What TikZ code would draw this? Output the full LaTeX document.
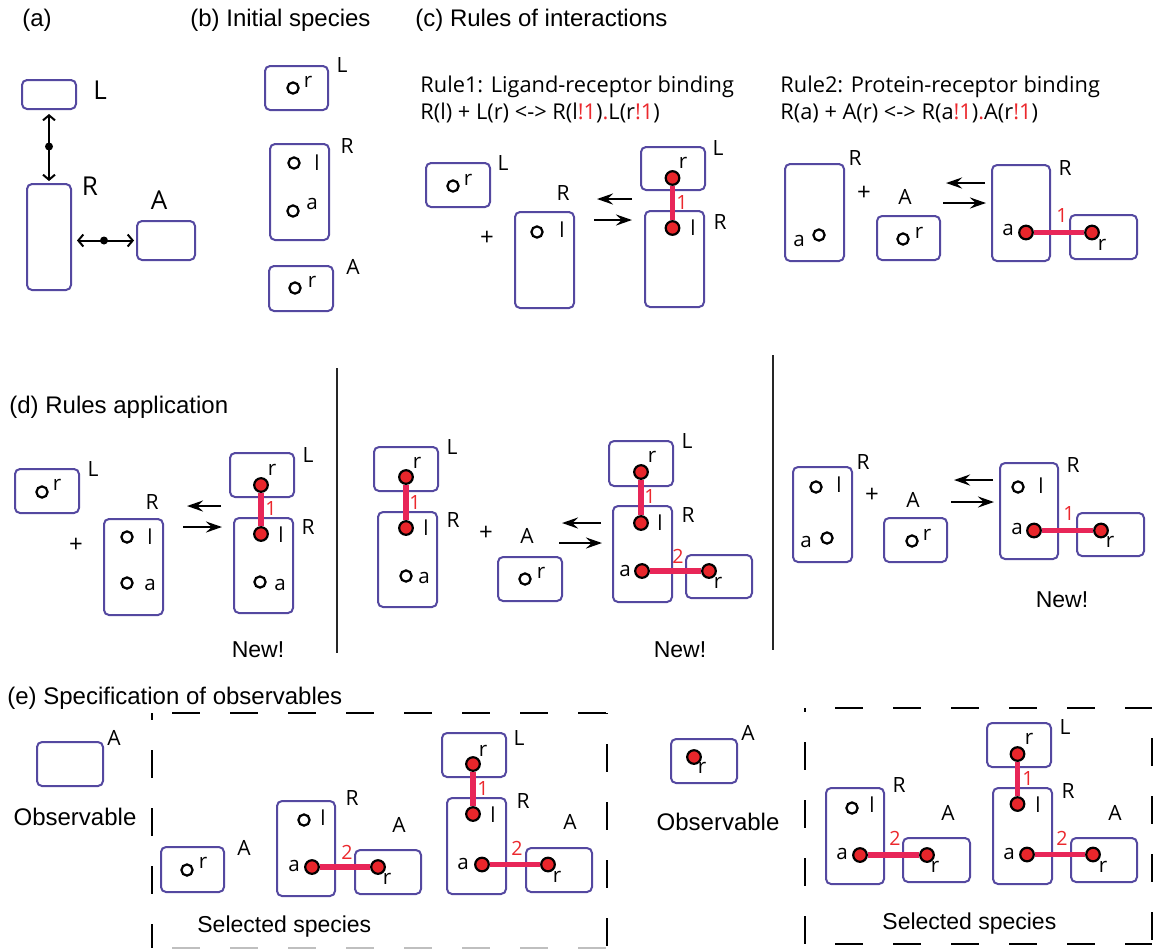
\documentclass[tikz,border=0pt]{standalone}
\usepackage{fontspec}
\setmainfont{Liberation Sans}
\newfontfamily\pts{Open Sans}
\usetikzlibrary{arrows.meta,fit,calc}
\definecolor{boxc}{RGB}{84,72,160}
\definecolor{dotc}{RGB}{232,38,43}
\definecolor{bondc}{RGB}{232,38,88}
\definecolor{numc}{RGB}{235,40,45}
\newcommand\mkr[1]{{\color{numc}#1}}
\newcommand\mybox[5]{\node[bx, fit={(#2,#3)(#4,#5)}] (#1) {};}
\newcommand\mycirc[3]{\node[opn] (#1) at (#2,#3) {};}
\newcommand\mydot[3]{\node[dot] (#1) at (#2,#3) {};}
\newcommand\mysite[4]{\node[site] (#1) at (#2,#3) {#4};}
\newcommand\mylab[4]{\node[lab] (#1) at (#2,#3) {#4};}
\newcommand\mynum[4]{\node[num] (#1) at (#2,#3) {#4};}
\begin{document}
\begin{tikzpicture}[x=0.5pt,y=-0.5pt,
 bx/.style={draw=boxc,line width=1pt,rounded corners=2.5pt,inner sep=0pt},
 opn/.style={circle,draw=black,line width=1.1pt,fill=white,minimum size=5.6pt,inner sep=0pt},
 dot/.style={circle,draw=black,line width=1.1pt,fill=dotc,minimum size=6.8pt,inner sep=0pt},
 bond/.style={draw=bondc,line width=2.8pt},
 site/.style={font=\pts\fontsize{10.3}{11}\selectfont,inner sep=0pt},
 lab/.style={font=\pts\fontsize{10.5}{11}\selectfont,inner sep=0pt},
 biglab/.style={font=\pts\fontsize{13}{14}\selectfont,inner sep=0pt},
 num/.style={font=\pts\fontsize{9.8}{10}\selectfont,text=numc,inner sep=0pt},
 ttl/.style={font=\fontsize{12}{14}\selectfont,anchor=west,inner sep=0pt},
 rulet/.style={font=\pts\fontsize{10.9}{14}\selectfont,anchor=west,inner sep=0pt},
 big/.style={font=\fontsize{11.5}{13}\selectfont,inner sep=0pt},
 plus/.style={font=\pts\fontsize{12}{14}\selectfont,inner sep=0pt},
 rxn/.style={line width=1.2pt,-{Stealth[length=8pt,width=5.5pt,inset=2.8pt]}},
 dbl/.style={line width=1pt,{Straight Barb[length=2.5pt,width=6pt]}-{Straight Barb[length=2.5pt,width=6pt]}},
 jdot/.style={circle,fill=black,minimum size=4pt,inner sep=0pt},
 sepl/.style={line width=1.2pt,draw=black!85},
 dsh/.style={line width=1.3pt,dash pattern=on 14pt off 15pt},
]
\useasboundingbox (0,0) rectangle (1154,950);

% ---------------- (a)
\node[ttl] (ta) at (22,20) {(a)};
\mybox{aL}{22}{80}{76}{109}
\mybox{aR}{27}{184}{71}{290}
\mybox{aA}{137}{221}{195}{260}
\node[biglab] (aLl) at (100,90) {L};
\node[biglab] (aRl) at (90,186) {R};
\node[biglab] (aAl) at (159,200) {A};
\draw[dbl, shorten <=2pt, shorten >=1pt] (aL.south) -- (aR.north);
\node[jdot] (aj1) at ($(aL.south)!0.5!(aR.north)$) {};
\draw[dbl, shorten <=2.5pt, shorten >=1pt] (aR.east |- aA.west) -- (aA.west);
\node[jdot] (aj2) at ($(aR.east |- aA.west)!0.5!(aA.west)$) {};

% ---------------- (b)
\node[ttl] (tb) at (190,20) {(b) Initial species};
\mybox{bL}{265}{66}{328}{110}
\mycirc{bLc}{293}{88} \mysite{bLr}{308}{82}{r} \mylab{bLl}{342}{65}{L}
\mybox{bR}{270}{144}{329}{240}
\mycirc{bRc1}{294}{163} \mysite{bRs1}{317}{163}{l}
\mycirc{bRc2}{293}{211} \mysite{bRs2}{312}{204}{a}
\mylab{bRl}{347}{146}{R}
\mybox{bA}{269}{266}{333}{311}
\mycirc{bAc}{295}{288} \mysite{bAr}{312}{282}{r} \mylab{bAl}{353}{267}{A}

% ---------------- (c)
\node[ttl] (tc) at (415,20) {(c) Rules of interactions};
\node[rulet] (r1a) at (420,87) {Rule1: Ligand-receptor binding};
\node[rulet] (r1b) at (420,113) {R(l) + L(r) <-> R(l\mkr{!1})\mkr{.}L(r\mkr{!1})};
\mybox{c1L}{426}{163}{490}{207}
\mycirc{c1Lc}{453}{186} \mysite{c1Lr}{468}{180}{r} \mylab{c1Ll}{503}{163}{L}
\node[plus] (c1p) at (487,238) {+};
\mybox{c1R}{515}{212}{574}{308}
\mycirc{c1Rc}{537}{232} \mysite{c1Rs}{562}{230}{l} \mylab{c1Rl}{563}{193}{R}
\coordinate (c1a1s) at (632,199); \coordinate (c1a1e) at (597,199);
\coordinate (c1a2s) at (594,220); \coordinate (c1a2e) at (632,220);
\draw[rxn] (c1a1s) -- (c1a1e);
\draw[rxn] (c1a2s) -- (c1a2e);
\mybox{c1bL}{641}{147}{705}{190}
\mybox{c1bR}{645}{211}{704}{307}
\mydot{c1bLd}{672.5}{178} \mydot{c1bRd}{672.5}{228}
\draw[bond] (c1bLd) -- (c1bRd);
\mysite{c1bLr}{683}{163}{r} \mylab{c1bLl}{718}{148}{L}
\mysite{c1bRs}{693}{228}{l} \mylab{c1bRl}{720}{222}{R}
\mynum{c1n}{682}{202}{1}

\node[rulet] (r2a) at (780,87) {Rule2: Protein-receptor binding};
\node[rulet] (r2b) at (780,113) {R(a) + A(r) <-> R(a\mkr{!1})\mkr{.}A(r\mkr{!1})};
\mybox{c2R}{785}{164}{844}{261}
\mycirc{c2Rc}{819}{235} \mysite{c2Rs}{799}{241}{a} \mylab{c2Rl}{855}{158}{R}
\node[plus] (c2p) at (864,193) {+};
\mylab{c2Al}{905}{197}{A}
\mybox{c2A}{877}{216}{940}{260}
\mycirc{c2Ac}{903}{239} \mysite{c2Ar}{919}{233}{r}
\coordinate (c2a1s) at (985,183); \coordinate (c2a1e) at (946,183);
\coordinate (c2a2s) at (943,203); \coordinate (c2a2e) at (986,203);
\draw[rxn] (c2a1s) -- (c2a1e);
\draw[rxn] (c2a2s) -- (c2a2e);
\mybox{c2bR}{992}{165}{1050}{261}
\mybox{c2bA}{1070}{215}{1137}{259}
\mydot{c2bRd}{1026}{232.5} \mydot{c2bAd}{1092}{232.5}
\draw[bond] (c2bRd) -- (c2bAd);
\mysite{c2bRs}{1008}{230}{a} \mylab{c2bRl}{1065}{168}{R}
\mysite{c2bAr}{1102}{245}{r}
\mynum{c2n}{1062}{215}{1}

% ---------------- (d)
\node[ttl] (td) at (9,407) {(d) Rules application};
% panel 1
\mybox{d1L}{15}{469}{79}{513}
\mycirc{d1Lc}{42}{492} \mysite{d1Lr}{57}{485}{r} \mylab{d1Ll}{93}{469}{L}
\node[plus] (d1p) at (76,545) {+};
\mybox{d1R}{104}{519}{163}{615}
\mycirc{d1Rc1}{127}{537} \mysite{d1Rs1}{150}{537}{l}
\mycirc{d1Rc2}{127}{583} \mysite{d1Rs2}{150}{585}{a}
\mylab{d1Rl}{152}{502}{R}
\coordinate (d1a1s) at (221,506); \coordinate (d1a1e) at (187,506);
\coordinate (d1a2s) at (183,527); \coordinate (d1a2e) at (222,527);
\draw[rxn] (d1a1s) -- (d1a1e);
\draw[rxn] (d1a2s) -- (d1a2e);
\mybox{d1bL}{230}{453}{294}{497}
\mybox{d1bR}{234}{518}{293}{613}
\mydot{d1bLd}{261}{485} \mydot{d1bRd}{261}{534}
\draw[bond] (d1bLd) -- (d1bRd);
\mysite{d1bLr}{272}{470}{r} \mylab{d1bLl}{308}{455}{L}
\mysite{d1bRs1}{281}{535}{l}
\mycirc{d1bRc}{260}{582} \mysite{d1bRs2}{280}{585}{a}
\mylab{d1bRl}{308}{527}{R}
\mynum{d1n}{271}{508}{1}
\node[big] (d1new) at (258,650) {New!};
\coordinate (s1t) at (337,368); \coordinate (s1b) at (337,653);
\draw[sepl] (s1t) -- (s1b);
% panel 2
\mybox{d2L}{374}{447}{438}{491}
\mybox{d2R}{378}{512}{437}{607}
\mydot{d2Ld}{406}{477} \mydot{d2Rd}{406}{528}
\draw[bond] (d2Ld) -- (d2Rd);
\mysite{d2Lr}{417}{463}{r} \mylab{d2Ll}{452}{447}{L}
\mysite{d2Rs1}{426}{528}{l}
\mycirc{d2Rc}{406}{576} \mysite{d2Rs2}{424}{578}{a}
\mylab{d2Rl}{453}{520}{R}
\mynum{d2n}{415}{502}{1}
\node[plus] (d2p) at (486,533) {+};
\mylab{d2Al}{527}{536}{A}
\mybox{d2A}{498}{557}{562}{601}
\mycirc{d2Ac}{525}{579} \mysite{d2Ar}{541}{573}{r}
\coordinate (d2a1s) at (601,523); \coordinate (d2a1e) at (562,523);
\coordinate (d2a2s) at (559,543); \coordinate (d2a2e) at (602,543);
\draw[rxn] (d2a1s) -- (d2a1e);
\draw[rxn] (d2a2s) -- (d2a2e);
\mybox{d2bL}{609}{441}{673}{486}
\mybox{d2bR}{613}{506}{672}{602}
\mybox{d2bA}{686}{555}{752}{598}
\mydot{d2bLd}{641}{472} \mydot{d2bRd1}{641}{523}
\mydot{d2bRd2}{642}{571} \mydot{d2bAd}{709}{571}
\draw[bond] (d2bLd) -- (d2bRd1);
\draw[bond] (d2bRd2) -- (d2bAd);
\mysite{d2bLr}{652}{457}{r} \mylab{d2bLl}{687}{441}{L}
\mysite{d2bRs1}{660}{523}{l} \mysite{d2bRs2}{625}{571}{a}
\mylab{d2bRl}{688}{515}{R}
\mysite{d2bAr}{718}{583}{r}
\mynum{d2n1}{650}{496}{1} \mynum{d2n2}{678}{556}{2}
\node[big] (d2new) at (680,650) {New!};
\coordinate (s2t) at (773,355); \coordinate (s2b) at (773,650);
\draw[sepl] (s2t) -- (s2b);
% panel 3
\mybox{d3R}{793}{467}{852}{562}
\mycirc{d3Rc1}{816}{487} \mysite{d3Rs1}{839}{485}{l}
\mycirc{d3Rc2}{827}{538} \mysite{d3Rs2}{806}{542}{a}
\mylab{d3Rl}{863}{462}{R}
\node[plus] (d3p) at (872,495) {+};
\mylab{d3Al}{913}{500}{A}
\mybox{d3A}{884}{518}{947}{562}
\mycirc{d3Ac}{912}{541} \mysite{d3Ar}{927}{535}{r}
\coordinate (d3a1s) at (993,480); \coordinate (d3a1e) at (954,480);
\coordinate (d3a2s) at (951,502); \coordinate (d3a2e) at (994,502);
\draw[rxn] (d3a1s) -- (d3a1e);
\draw[rxn] (d3a2s) -- (d3a2e);
\mybox{d3bR}{1000}{463}{1058}{559}
\mybox{d3bA}{1077}{513}{1144}{556}
\mycirc{d3bRc}{1018}{487} \mysite{d3bRs1}{1041}{486}{l}
\mydot{d3bRd}{1034}{530.5} \mydot{d3bAd}{1101}{530.5}
\draw[bond] (d3bRd) -- (d3bAd);
\mysite{d3bRs2}{1017}{529}{a} \mylab{d3bRl}{1073}{465}{R}
\mysite{d3bAr}{1110}{542}{r}
\mynum{d3n}{1069}{513}{1}
\node[big] (d3new) at (1062,600) {New!};

% ---------------- (e)
\node[ttl] (te) at (7,698) {(e) Specification of observables};
\mybox{eO1}{37}{742}{103}{786} \mylab{eO1l}{114}{738}{A}
\node[font=\fontsize{12}{14}\selectfont,inner sep=0pt] (eO1t) at (75,817) {Observable};
% dashed box 1
\coordinate (k1a) at (152,713); \coordinate (k1b) at (607,713);
\coordinate (k1c) at (607,948); \coordinate (k1d) at (152,948);
\draw[dsh, dash phase=19pt] (k1a) -- (k1b);
\draw[dsh, dash phase=10.5pt] (k1a) -- (k1d);
\draw[dsh, dash phase=13.5pt] (k1b) -- (k1c);
\draw[dsh, dash phase=19pt, draw=black!25] (k1d) -- (k1c);
\mybox{e1A}{161}{847}{224}{892}
\mycirc{e1Ac}{187}{870} \mysite{e1Ar}{203}{863}{r} \mylab{e1Al}{244}{848}{A}
% complex 1
\mybox{e2R}{277}{801}{335}{896}
\mybox{e2A}{355}{850}{421}{894}
\mycirc{e2Rc}{304}{820} \mysite{e2Rs1}{323}{818}{l}
\mydot{e2Rd}{312}{867} \mydot{e2Ad}{378}{867}
\draw[bond] (e2Rd) -- (e2Ad);
\mysite{e2Rs2}{294}{866}{a} \mylab{e2Rl}{352}{798}{R}
\mysite{e2Ar}{387}{879}{r} \mylab{e2Al}{399}{825}{A}
\mynum{e2n}{347}{852}{2}
% complex 2
\mybox{e3L}{442}{733}{506}{777}
\mybox{e3R}{447}{798}{506}{894}
\mybox{e3A}{526}{848}{592}{892}
\mydot{e3Ld}{473}{764} \mydot{e3Rd1}{473}{814}
\mydot{e3Rd2}{482}{864.5} \mydot{e3Ad}{548}{864.5}
\draw[bond] (e3Ld) -- (e3Rd1);
\draw[bond] (e3Rd2) -- (e3Ad);
\mysite{e3Lr}{483}{751}{r} \mylab{e3Ll}{519}{738}{L}
\mysite{e3Rs1}{493}{815}{l} \mysite{e3Rs2}{463}{864}{a}
\mylab{e3Rl}{523}{801}{R}
\mysite{e3Ar}{557}{877}{r} \mylab{e3Al}{570}{822}{A}
\mynum{e3n1}{483}{788}{1} \mynum{e3n2}{517}{848}{2}
\node[big,anchor=west] (e1sel) at (197,927) {Selected species};

% right observable
\mybox{eO2}{671}{739}{737}{783} \mylab{eO2l}{748}{733}{A}
\mydot{eO2d}{694}{757} \mysite{eO2r}{702}{768}{r}
\node[font=\fontsize{12}{14}\selectfont,inner sep=0pt] (eO2t) at (718,822) {Observable};
% dashed box 2
\coordinate (k2a) at (805,708); \coordinate (k2b) at (1152,708);
\coordinate (k2c) at (1152,944); \coordinate (k2d) at (805,944);
\draw[dsh, dash phase=14pt] (k2a) -- (k2b);
\draw[dsh, dash phase=12pt] (k2a) -- (k2d);
\draw[dsh, dash phase=14pt] (k2b) -- (k2c);
\draw[dsh, dash phase=14pt] (k2d) -- (k2c);
% complex 3
\mybox{e5R}{826}{788}{884}{884}
\mybox{e5A}{903}{838}{970}{882}
\mycirc{e5Rc}{852}{808} \mysite{e5Rs1}{872}{805}{l}
\mydot{e5Rd}{860}{855} \mydot{e5Ad}{927}{855}
\draw[bond] (e5Rd) -- (e5Ad);
\mysite{e5Rs2}{842}{854}{a} \mylab{e5Rl}{899}{785}{R}
\mysite{e5Ar}{935}{867}{r} \mylab{e5Al}{948}{813}{A}
\mynum{e5n}{895}{838}{2}
% complex 4
\mybox{e6L}{987}{723}{1051}{767}
\mybox{e6R}{993}{788}{1052}{884}
\mybox{e6A}{1071}{838}{1137}{882}
\mydot{e6Ld}{1017.5}{754} \mydot{e6Rd1}{1017.5}{804}
\mydot{e6Rd2}{1027}{854.5} \mydot{e6Ad}{1093}{854.5}
\draw[bond] (e6Ld) -- (e6Rd1);
\draw[bond] (e6Rd2) -- (e6Ad);
\mysite{e6Lr}{1029}{739}{r} \mylab{e6Ll}{1065}{727}{L}
\mysite{e6Rs1}{1038}{805}{l} \mysite{e6Rs2}{1009}{854}{a}
\mylab{e6Rl}{1068}{791}{R}
\mysite{e6Ar}{1103}{867}{r} \mylab{e6Al}{1115}{813}{A}
\mynum{e6n1}{1028}{778}{1} \mynum{e6n2}{1062}{838}{2}
\node[big,anchor=west] (e2sel) at (882,924) {Selected species};
\end{tikzpicture}
\end{document}
